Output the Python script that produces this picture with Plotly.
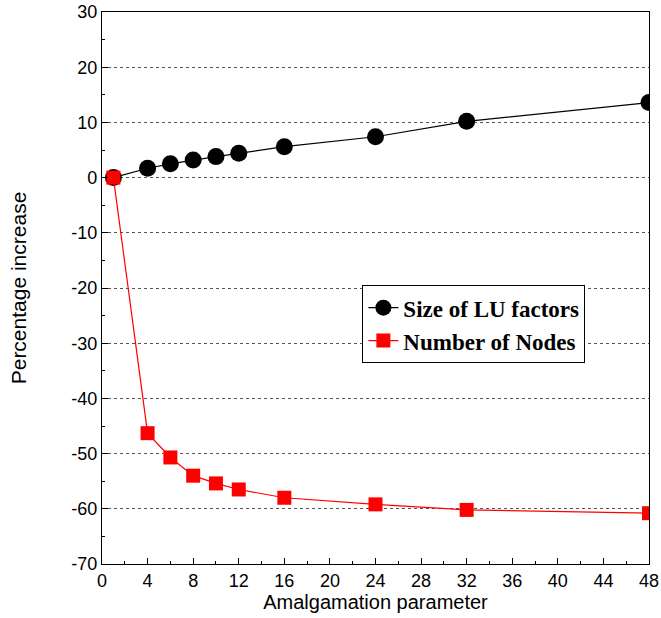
import plotly.graph_objects as go

amalgamation = [1, 4, 6, 8, 10, 12, 16, 24, 32, 48]
lu_size = [0, 1.7, 2.5, 3.2, 3.8, 4.4, 5.6, 7.4, 10.2, 13.6]
num_nodes = [0, -46.3, -50.7, -54.0, -55.4, -56.5, -58.0, -59.2, -60.2, -60.8]

x_ticks = list(range(0, 49, 4))
y_ticks = list(range(-70, 31, 10))
y_ticklabels = [str(v) for v in y_ticks]  # plain hyphen minus as in the reference

fig = go.Figure()
fig.add_trace(go.Scatter(
    x=amalgamation, y=lu_size, mode="lines+markers", name="Size of LU factors",
    line=dict(color="black", width=1.2),
    marker=dict(symbol="circle", size=17, color="black"),
))
fig.add_trace(go.Scatter(
    x=amalgamation, y=num_nodes, mode="lines+markers", name="Number of Nodes",
    line=dict(color="red", width=1.2),
    marker=dict(symbol="square", size=14, color="red"),
))

axis_common = dict(
    showline=True, linecolor="black", linewidth=1.2, mirror=True,
    ticks="inside", ticklen=6, tickcolor="black",
    tickfont=dict(family="Liberation Sans, Arial", size=18, color="black"),
    zeroline=False, automargin=False, ticklabeloverflow="allow",
)

fig.update_layout(
    width=661, height=618,
    margin=dict(l=102, r=12, t=12, b=54),
    plot_bgcolor="white", paper_bgcolor="white",
    xaxis=dict(
        range=[0, 48], tickvals=x_ticks, showgrid=False,
        minor=dict(ticks="inside", ticklen=3, dtick=2, tick0=0, tickcolor="black", showgrid=False),
        title=dict(text="Amalgamation parameter", standoff=2,
                   font=dict(family="Liberation Sans, Arial", size=20, color="black")),
        **axis_common,
    ),
    yaxis=dict(
        range=[-70, 30], tickvals=y_ticks, ticktext=y_ticklabels, showgrid=True,
        gridcolor="#555555", griddash="dot", gridwidth=1,
        minor=dict(ticks="inside", ticklen=3, dtick=5, tick0=-70, tickcolor="black", showgrid=False),
        title=dict(text="Percentage increase", standoff=38,
                   font=dict(family="Liberation Sans, Arial", size=21, color="black")),
        **axis_common,
    ),
    legend=dict(
        x=0.476, y=0.505, xanchor="left", yanchor="top",
        bgcolor="white", bordercolor="black", borderwidth=1,
        font=dict(family="Liberation Serif, Times New Roman", size=23, color="black", weight="bold"),
        tracegroupgap=0,
    ),
    showlegend=True,
)

# remove the default 8px page margin so the figure fills the window exactly
fig.write_html("out.html", config={"displayModeBar": False},
               post_script="document.body.style.margin='0';")
